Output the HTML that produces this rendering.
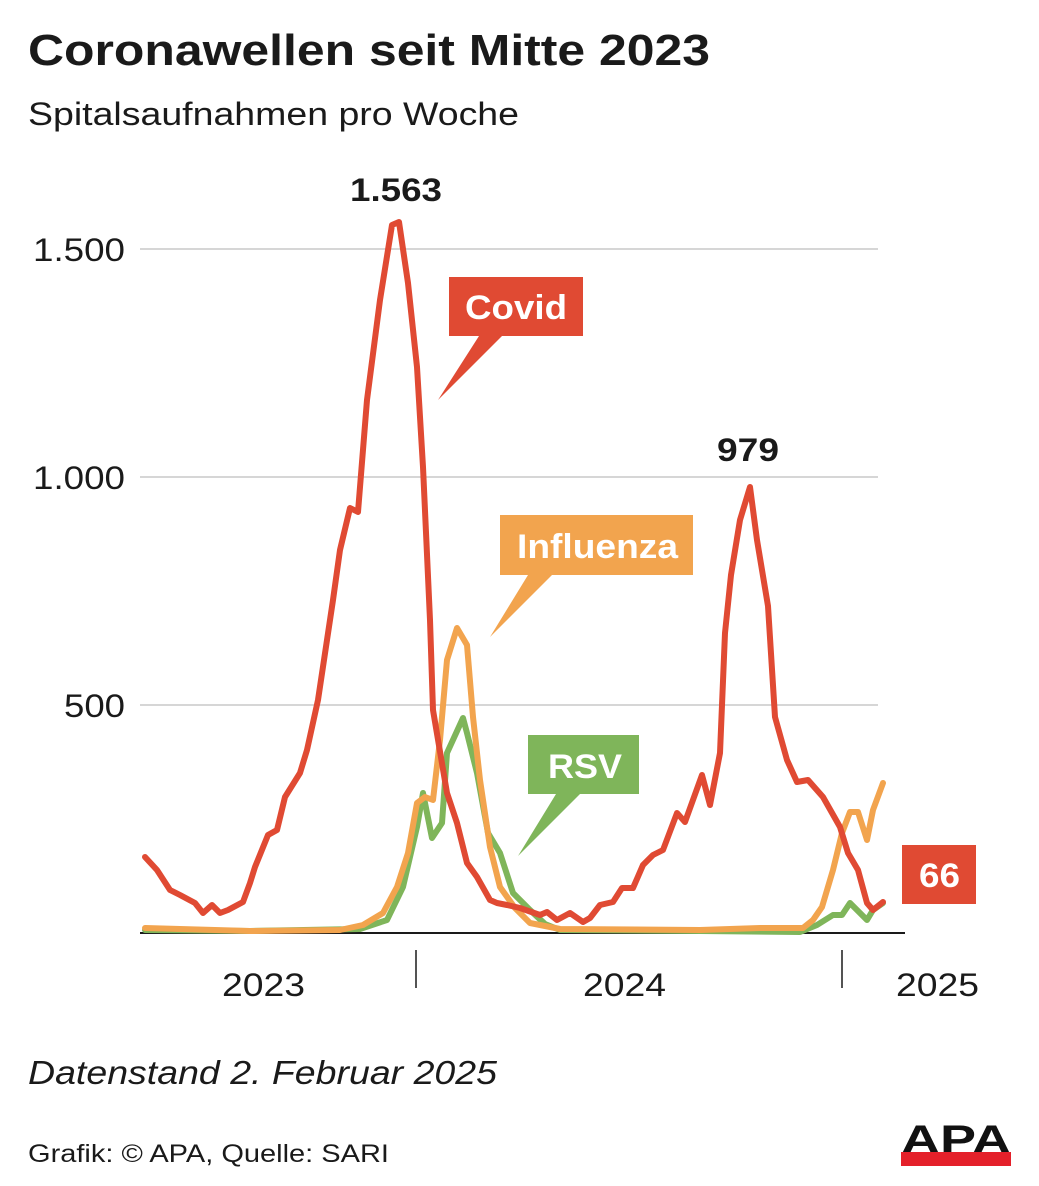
<!DOCTYPE html>
<html><head><meta charset="utf-8"><style>
body{margin:0;background:#fff;}
svg text{font-family:"Liberation Sans",Arial,sans-serif;}
</style></head><body>
<svg width="1039" height="1181" viewBox="0 0 1039 1181" xmlns="http://www.w3.org/2000/svg">
<text x="28" y="65" font-size="44" font-weight="bold" fill="#1a1a1a" textLength="682" lengthAdjust="spacingAndGlyphs">Coronawellen seit Mitte 2023</text>
<text x="28" y="125" font-size="32" fill="#1a1a1a" textLength="491" lengthAdjust="spacingAndGlyphs">Spitalsaufnahmen pro Woche</text>
<g stroke="#d6d6d6" stroke-width="2">
<line x1="140" y1="249" x2="878" y2="249"/>
<line x1="140" y1="477" x2="878" y2="477"/>
<line x1="140" y1="705" x2="878" y2="705"/>
</g>
<g font-size="32" fill="#1a1a1a">
<text x="33" y="261" textLength="92" lengthAdjust="spacingAndGlyphs">1.500</text>
<text x="33" y="489" textLength="92" lengthAdjust="spacingAndGlyphs">1.000</text>
<text x="64" y="717" textLength="61" lengthAdjust="spacingAndGlyphs">500</text>
</g>
<line x1="140" y1="933" x2="905" y2="933" stroke="#1a1a1a" stroke-width="2"/>
<line x1="416" y1="950" x2="416" y2="988" stroke="#1a1a1a" stroke-width="1.5"/>
<line x1="842" y1="950" x2="842" y2="988" stroke="#1a1a1a" stroke-width="1.5"/>
<g font-size="32" fill="#1a1a1a">
<text x="222" y="996" textLength="83" lengthAdjust="spacingAndGlyphs">2023</text>
<text x="583" y="996" textLength="83" lengthAdjust="spacingAndGlyphs">2024</text>
<text x="896" y="996" textLength="83" lengthAdjust="spacingAndGlyphs">2025</text>
</g>
<g fill="none" stroke-width="6" stroke-linejoin="round" stroke-linecap="round">
<polyline stroke="#7fb55a" points="145,930 250,931 360,929 387,920 403,887 417,827 423,793 432,838 442,823 447,753 463,718 467,733 477,773 488,833 500,853 513,893 530,910 545,924 560,930 700,931 800,932 817,925 833,915 842,915 850,903 867,920 873,910 883,903"/>
<polyline stroke="#f2a44e" points="145,928 250,931 340,930 363,925 383,913 397,887 408,853 417,803 425,797 433,800 440,740 447,660 457,628 467,645 473,717 480,780 490,847 500,887 515,908 530,923 560,929 700,930 760,928 803,928 813,920 822,907 833,870 842,833 850,812 858,812 867,840 873,810 883,783"/>
<polyline stroke="#e04a33" points="145,857 157,870 170,890 180,895 195,903 203,913 212,905 220,913 228,910 243,902 250,883 255,867 268,835 277,830 285,797 300,773 307,750 318,700 333,600 340,550 350,508 358,512 367,400 380,300 392,225 399,222 408,283 417,367 423,467 430,620 433,710 447,793 457,823 467,863 477,877 490,900 497,903 507,905 520,908 540,915 547,912 557,920 570,913 583,922 590,918 600,905 613,902 622,888 633,888 643,865 653,855 663,850 677,813 685,822 702,775 710,805 720,753 725,633 731,575 740,520 750,487 757,540 768,606 775,717 787,760 797,782 808,780 823,797 840,827 848,853 858,870 867,903 873,910 883,902"/>
</g>
<g font-size="32" font-weight="bold" fill="#1a1a1a">
<text x="350" y="201" textLength="92" lengthAdjust="spacingAndGlyphs">1.563</text>
<text x="717" y="461" textLength="62" lengthAdjust="spacingAndGlyphs">979</text>
</g>
<polygon points="449,277 583,277 583,336 502,336 438,400 479,336 449,336" fill="#e04a33"/>
<text x="465" y="319" font-size="34" font-weight="bold" fill="#fff" textLength="102" lengthAdjust="spacingAndGlyphs">Covid</text>
<polygon points="500,515 693,515 693,575 552,575 490,637 528,575 500,575" fill="#f2a44e"/>
<text x="517" y="558" font-size="34" font-weight="bold" fill="#fff" textLength="161" lengthAdjust="spacingAndGlyphs">Influenza</text>
<polygon points="528,735 639,735 639,794 580,794 518,856 556,794 528,794" fill="#7fb55a"/>
<text x="548" y="778" font-size="34" font-weight="bold" fill="#fff" textLength="74" lengthAdjust="spacingAndGlyphs">RSV</text>
<rect x="902" y="845" width="74" height="59" fill="#e04a33"/>
<text x="919" y="887" font-size="34" font-weight="bold" fill="#fff" textLength="41" lengthAdjust="spacingAndGlyphs">66</text>
<text x="28" y="1084" font-size="33" font-style="italic" fill="#1a1a1a" textLength="469" lengthAdjust="spacingAndGlyphs">Datenstand 2. Februar 2025</text>
<text x="28" y="1162" font-size="25" fill="#1a1a1a" textLength="361" lengthAdjust="spacingAndGlyphs">Grafik: © APA, Quelle: SARI</text>
<text x="956" y="1153" font-size="40" font-weight="bold" fill="#111" text-anchor="middle" textLength="110" lengthAdjust="spacingAndGlyphs">APA</text>
<rect x="901" y="1152" width="110" height="14" fill="#e4202a"/>
</svg>
</body></html>
